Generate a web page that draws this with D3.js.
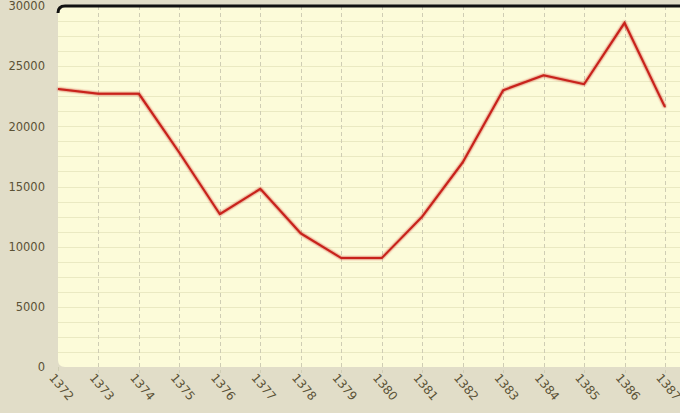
<!DOCTYPE html>
<html><head><meta charset="utf-8">
<script src="https://cdn.jsdelivr.net/npm/d3@7"></script>
<style>
html,body{margin:0;padding:0;background:#e1ddc8;}
svg{display:block;}
text{font-family:"DejaVu Sans",Verdana,sans-serif;font-size:11px;fill:#5b5236;}
</style></head><body>
<svg id="c" width="680" height="413"></svg>
<script>
const years = ["1372","1373","1374","1375","1376","1377","1378","1379","1380","1381","1382","1383","1384","1385","1386","1387"];
const values = [23100,22700,22700,17800,12700,14800,11100,9050,9050,12500,17000,23000,24250,23500,28600,21600];
const yTicks = [0,5000,10000,15000,20000,25000,30000];

const svg = d3.select("#c");
const L = 58, R = 680, T = 6, B = 367;
const x = d3.scalePoint().domain(years).range([L, 665]);
const y = d3.scaleLinear().domain([0, 30000]).range([B, T]);

const defs = svg.append("defs");
const f = defs.append("filter").attr("id","glow").attr("x","-10%").attr("y","-10%").attr("width","120%").attr("height","120%");
f.append("feGaussianBlur").attr("stdDeviation",1.3).attr("result","b");
const m = f.append("feMerge");
m.append("feMergeNode").attr("in","b");
m.append("feMergeNode").attr("in","SourceGraphic");

// plot background
svg.append("path")
  .attr("d", `M${L+7},${T} H${R+10} V${B} H${L+7} Q${L},${B} ${L},${B-7} V${T+7} Q${L},${T} ${L+7},${T} Z`)
  .attr("fill","#fcfbd9");

// minor horizontal grid every 1250
const minor = d3.range(1250, 30000, 1250);
svg.append("g").selectAll("line").data(minor).join("line")
  .attr("x1", L).attr("x2", R).attr("y1", d=>Math.round(y(d))+0.5).attr("y2", d=>Math.round(y(d))+0.5)
  .attr("stroke","#eae9c2").attr("stroke-width",1);

// vertical dashed grid + tick extension
svg.append("g").selectAll("line").data(years.slice(1)).join("line")
  .attr("x1", d=>Math.round(x(d))+0.5).attr("x2", d=>Math.round(x(d))+0.5)
  .attr("y1", T).attr("y2", B+6)
  .attr("stroke","#cfcdb4").attr("stroke-dasharray","4,3").attr("stroke-width",1);
svg.append("line").attr("x1",L+0.5).attr("x2",L+0.5).attr("y1",B).attr("y2",B+6)
  .attr("stroke","#cfcdb4").attr("stroke-dasharray","4,3");

// top black border with rounded corner
svg.append("path")
  .attr("d", `M${L},${T+7} Q${L},${T} ${L+7},${T} H${R}`)
  .attr("fill","none").attr("stroke","#111").attr("stroke-width",3);

// y axis labels
const yAxis = d3.axisLeft(y).tickValues(yTicks).tickSize(0).tickPadding(13).tickFormat(d3.format("d"));
const ga = svg.append("g").attr("transform",`translate(${L},0)`).call(yAxis);
ga.select(".domain").remove();
ga.selectAll("text").style("font-size","11.5px").attr("fill","#5b5236");

// x axis labels
const xAxis = d3.axisBottom(x).tickSize(0).tickPadding(0);
const gx = svg.append("g").attr("transform",`translate(0,${B})`).call(xAxis);
gx.select(".domain").remove();
gx.selectAll("text")
  .attr("text-anchor","start").attr("dy",null).attr("y",0)
  .attr("transform","translate(-10,11) rotate(50)")
  .style("font-size","12px").attr("fill","#5b5236");

// line
const line = d3.line().x((d,i)=>x(years[i])).y(d=>y(d));
svg.append("path").datum(values).attr("d", line)
  .attr("fill","none").attr("stroke","#c8201a").attr("stroke-width",2)
  .attr("stroke-linejoin","miter").attr("filter","url(#glow)");
</script>
</body></html>
